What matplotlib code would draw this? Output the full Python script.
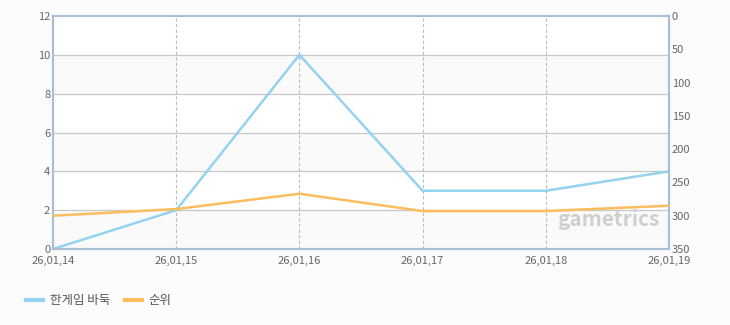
import matplotlib
matplotlib.use("Agg")
import matplotlib.pyplot as plt
from matplotlib.lines import Line2D

plt.rcParams['font.family'] = ['Noto Sans CJK KR', 'DejaVu Sans']

dates = ["26,01,14", "26,01,15", "26,01,16", "26,01,17", "26,01,18", "26,01,19"]
game_values = [0, 2, 10, 3, 3, 4]
rank_values = [300, 290, 267, 293, 293, 285]
left_ticks = [0, 2, 4, 6, 8, 10, 12]
right_ticks = [0, 50, 100, 150, 200, 250, 300, 350]
series_names = ["한게임 바둑", "순위"]

blue = "#93d3f0"
orange = "#fbbd5e"
frame = "#aabfd3"
tick_color = "#666666"

fig = plt.figure(figsize=(7.3, 3.25), dpi=100, facecolor="#fcfcfc")
ax = fig.add_axes([0.0726, 0.2338, 0.8438, 0.717])
ax.set_facecolor("white")
x = list(range(len(dates)))

# alternating bands
for i in range(0, 12, 2):
    if (i // 2) % 2 == 0:
        ax.axhspan(i, i + 2, color="#fafafa", zorder=0)

for v in left_ticks[1:-1]:
    ax.axhline(v, color="#c8c8c8", lw=0.9, zorder=1)
for xi in x[1:-1]:
    ax.axvline(xi, color="#bdbdbd", lw=0.8, ls=(0, (3, 2)), zorder=1)

ax.plot(x, game_values, color=blue, lw=1.8, zorder=3, solid_joinstyle="miter")
ax.set_xlim(0, len(dates) - 1)
ax.set_ylim(0, 12)
ax.set_yticks(left_ticks)
ax.set_xticks(x)
ax.set_xticklabels(dates)

ax2 = ax.twinx()
ax2.plot(x, rank_values, color=orange, lw=1.8, zorder=3)
ax2.set_ylim(350, 0)
ax2.set_yticks(right_ticks)

for a in (ax, ax2):
    for s in a.spines.values():
        s.set_color(frame)
        s.set_linewidth(1.5)
    a.tick_params(length=0, labelsize=8, colors=tick_color, pad=2)
ax.tick_params(axis='x', pad=5)

ax.text(0.985, 0.08, "gametrics", transform=ax.transAxes, ha="right", va="bottom",
        fontsize=15, fontstyle="italic", fontweight="bold", color="#cfcfcf", zorder=2)

handles = [Line2D([0], [0], color=blue, lw=3), Line2D([0], [0], color=orange, lw=3)]
fig.legend(handles, series_names, loc="lower left", bbox_to_anchor=(0.02, 0.02),
           ncol=2, frameon=False, fontsize=9, handlelength=1.4, handletextpad=0.5,
           columnspacing=1.2, labelcolor="#555555")

fig.savefig("out.png", dpi=100, facecolor=fig.get_facecolor())
